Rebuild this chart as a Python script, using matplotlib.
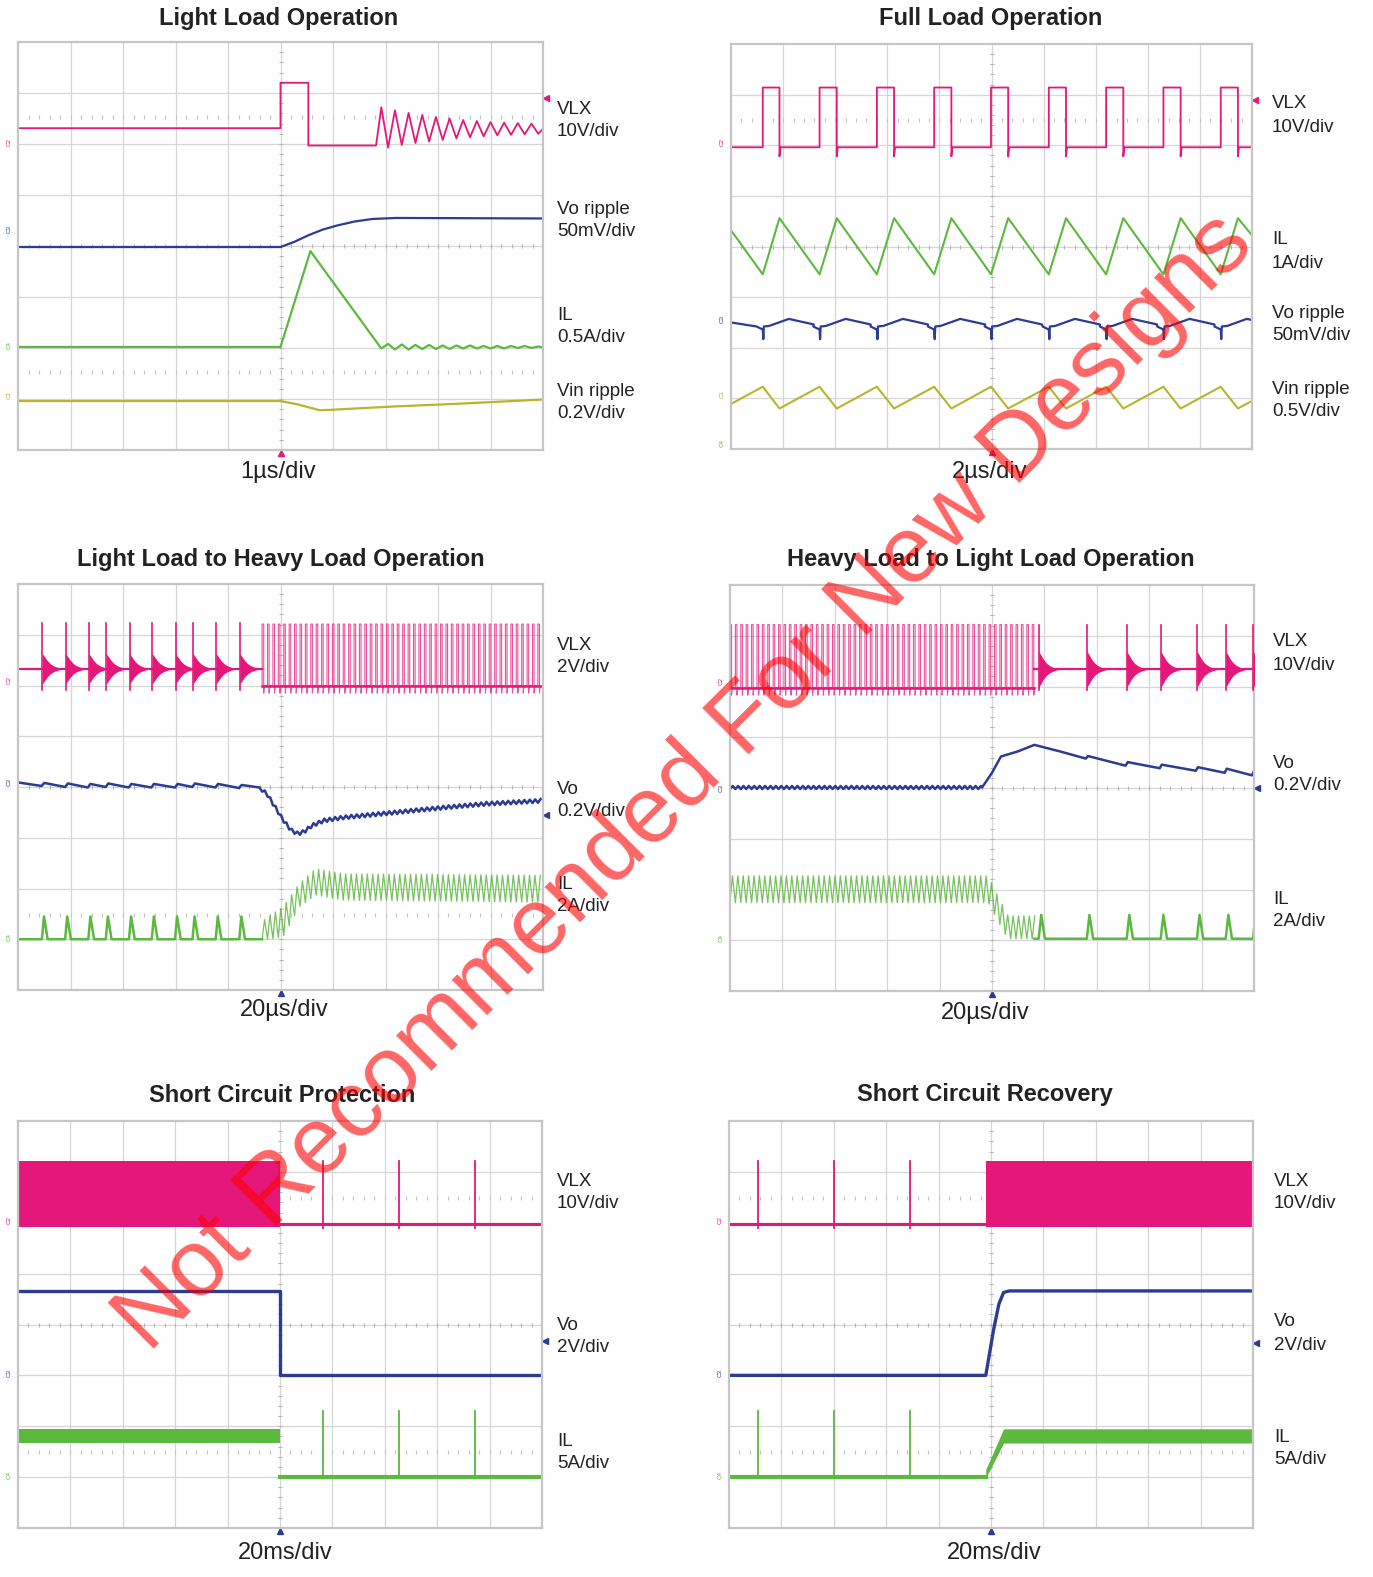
import numpy as np
import matplotlib.pyplot as plt

plt.rcParams['font.family'] = ['Liberation Sans', 'DejaVu Sans']

W, H = 1373, 1577
PINK = '#e5177b'
BLUE = '#2b3c92'
GREEN = '#5cb83e'
YELLOW = '#b8b42e'
GRID = '#d6d6d6'

# ---------------- data, in scope divisions (x 0..10, y 0..8) ----------------
# Light load operation
ll_vlx_x = [0, 5.0, 5.0, 5.53, 5.53, 6.82]
ll_vlx_y = [6.31, 6.31, 7.2, 7.2, 5.97, 5.97]
ll_ring_x = [6.92, 7.05, 7.18, 7.31, 7.44, 7.57, 7.70, 7.83, 7.96, 8.09, 8.22, 8.35,
             8.48, 8.61, 8.74, 8.87, 9.00, 9.13, 9.26, 9.39, 9.52, 9.65, 9.78, 9.91, 10.0]
ll_ring_y = [6.72, 5.93, 6.66, 5.98, 6.61, 6.02, 6.57, 6.05, 6.53, 6.08, 6.50, 6.11,
             6.47, 6.13, 6.45, 6.15, 6.43, 6.17, 6.42, 6.18, 6.41, 6.19, 6.40, 6.20, 6.30]
ll_vo_x = [0, 5.0, 5.26, 5.53, 5.8, 6.07, 6.41, 6.75, 7.2, 10.0]
ll_vo_y = [3.98, 3.98, 4.08, 4.21, 4.32, 4.40, 4.48, 4.53, 4.55, 4.54]
ll_il_x = [0, 5.0, 5.57, 6.92, 7.05, 7.18, 7.31, 7.44, 7.57, 7.70, 7.83, 7.96, 8.09, 8.22,
           8.35, 8.48, 8.61, 8.74, 8.87, 9.00, 9.13, 9.26, 9.39, 9.52, 9.65, 9.78, 9.91, 10.0]
ll_il_y = [2.02, 2.02, 3.90, 1.99, 2.08, 1.97, 2.07, 1.97, 2.06, 1.98, 2.06, 1.98, 2.05, 1.98,
           2.05, 1.99, 2.05, 1.99, 2.04, 1.99, 2.04, 1.99, 2.04, 2.00, 2.04, 2.00, 2.03, 2.01]
ll_vin_x = [0, 5.0, 5.3, 5.6, 5.75, 6.0, 7.09, 8.44, 10.0]
ll_vin_y = [0.96, 0.96, 0.90, 0.82, 0.78, 0.79, 0.85, 0.91, 0.99]

# Full load operation
fl_rise = [0.61, 1.70, 2.80, 3.90, 4.99, 6.10, 7.20, 8.30, 9.40]
fl_fall = [0.93, 2.03, 3.13, 4.23, 5.32, 6.43, 7.53, 8.63, 9.73]
fl_vlx_levels = [5.96, 7.14, 5.78]          # low, high, undershoot
fl_il_levels = [3.45, 4.56]                 # valley, peak
fl_il_ends = [4.32, 4.22]
fl_vo_dx = [-0.12, 0, 0.01, 0.02, 0.12, 0.5, 0.98]
fl_vo_y = [2.42, 2.36, 2.17, 2.42, 2.43, 2.57, 2.46]
fl_vin_levels = [1.23, 0.80]                # peak, trough
fl_vin_ends = [0.89, 0.95]

# Light load to heavy load
lh_pulses = [0.465, 0.907, 1.349, 1.682, 2.124, 2.558, 3.0, 3.333, 3.775, 4.225]
lh_burst = [4.65, 10.0]
lh_period = 0.103
lh_vlx_levels = [6.33, 7.23, 5.92]          # base, spike top, spike bottom
lh_burst_levels = [6.0, 7.21, 5.85]
lh_vo_x = [0, 0.45, 0.5, 0.9, 0.95, 1.33, 1.38, 1.67, 1.72, 2.11, 2.16, 2.54, 2.59,
           2.99, 3.04, 3.32, 3.37, 3.76, 3.81, 4.21, 4.26, 4.6, 4.75, 4.9, 5.05, 5.2,
           5.33, 5.45, 5.6, 5.83, 6.2, 6.6, 7.0, 7.38, 8.16, 8.93, 10.0]
lh_vo_y = [4.09, 4.02, 4.08, 4.00, 4.07, 3.99, 4.06, 4.00, 4.07, 3.99, 4.06, 3.99, 4.06,
           3.99, 4.06, 4.00, 4.07, 3.99, 4.06, 3.98, 4.04, 3.99, 3.85, 3.60, 3.35, 3.15,
           3.08, 3.12, 3.24, 3.34, 3.40, 3.44, 3.48, 3.52, 3.60, 3.67, 3.73]
lh_il_base = 1.0
lh_il_spike = 1.45
lh_il_env_x = [4.65, 4.8, 5.05, 5.36, 5.67, 6.2, 10.0]
lh_il_env_lo = [1.0, 1.0, 1.05, 1.64, 1.87, 1.77, 1.73]
lh_il_env_hi = [1.35, 1.47, 1.64, 2.10, 2.39, 2.29, 2.26]

# Heavy load to light load
hl_burst = [0.0, 5.81]
hl_period = 0.103
hl_pulses = [5.89, 6.81, 7.57, 8.22, 8.91, 9.46, 9.98]
hl_vlx_levels = [6.34, 7.22, 5.93]
hl_burst_levels = [5.98, 7.22, 5.83]
hl_vo_x = [0, 4.81, 5.0, 5.17, 5.49, 5.81, 6.3, 6.79, 6.83, 7.55, 7.59, 8.2, 8.24,
           8.89, 8.93, 9.44, 9.48, 9.96, 10.0]
hl_vo_y = [4.01, 4.01, 4.30, 4.62, 4.72, 4.85, 4.72, 4.58, 4.63, 4.44, 4.51, 4.39, 4.46,
           4.34, 4.41, 4.30, 4.38, 4.25, 4.33]
hl_il_base = 1.03
hl_il_spike = 1.5
hl_il_env_x = [0, 4.93, 5.1, 5.3, 5.33, 5.85]
hl_il_env_lo = [1.74, 1.74, 1.40, 1.03, 1.03, 1.03]
hl_il_env_hi = [2.27, 2.27, 1.90, 1.50, 1.48, 1.48]

# Short circuit protection
sp_split = 5.0
sp_spikes = [5.83, 7.28, 8.72]
sp_vlx_band = [5.92, 7.21]
sp_vlx_base = 5.97
sp_vo_levels = [4.66, 3.0]
sp_il_band = [1.67, 1.95]
sp_il_base = 1.0
sp_il_spike = 2.3

# Short circuit recovery
sr_split = 4.9
sr_spikes = [0.55, 2.0, 3.45]
sr_vlx_band = [5.92, 7.21]
sr_vlx_base = 5.97
sr_vo_x = [0, 4.9, 4.95, 5.05, 5.15, 5.24, 5.35, 10.0]
sr_vo_y = [3.0, 3.0, 3.3, 3.9, 4.4, 4.63, 4.66, 4.66]
sr_il_base = 1.0
sr_il_spike = 2.3
sr_il_x = [4.9, 5.24, 10.0]
sr_il_lo = [0.98, 1.67, 1.67]
sr_il_hi = [1.15, 1.95, 1.95]

# ring-down shape after a light-load switching pulse
ring_dx = [0, 0.04, 0.09, 0.15, 0.22, 0.3, 0.4]
ring_env = [1.0, 0.8, 0.55, 0.33, 0.18, 0.08, 0.0]

fig = plt.figure(figsize=(W / 100, H / 100), dpi=100)


def scope_axes(box, dotted_rows):
    l, t, r, b = box
    ax = fig.add_axes([l / W, 1 - b / H, (r - l) / W, (b - t) / H])
    ax.set_xlim(0, 10)
    ax.set_ylim(0, 8)
    ax.set_xticks([])
    ax.set_yticks([])
    for s in ax.spines.values():
        s.set_color('#c6c6c6')
        s.set_linewidth(1.6)
    for gx in range(1, 10):
        ax.axvline(gx, color=GRID, lw=0.9, zorder=0)
    for gy in range(1, 8):
        ax.axhline(gy, color=GRID, lw=0.9, zorder=0)
    mx = np.arange(0.2, 10, 0.2)
    my = np.arange(0.2, 8, 0.2)
    ax.plot(mx, np.full_like(mx, 4), ls='none', marker='|', ms=3.5, mew=0.8, color='#b5b5b5', zorder=0)
    ax.plot(np.full_like(my, 5), my, ls='none', marker='_', ms=3.5, mew=0.8, color='#b5b5b5', zorder=0)
    for y in dotted_rows:
        ax.plot(mx, np.full_like(mx, y), ls='none', marker='|', ms=2.5, mew=0.8, color='#c4c4c4', zorder=0)
    return ax


def text_px(x, y, s, **kw):
    fig.text(x / W, 1 - y / H, s, **kw)


def tags(ax, items):
    for y, name, c in items:
        ax.text(-0.12, y, name, rotation=90, fontsize=4.5, color=c, ha='right', va='center', clip_on=False)


def pulse_lines(ax, times, width, levels, **kw):
    lo, hi, under = levels
    xs, ys = [], []
    for t in times:
        xs += [t, t, t + width, t + width, t + width + 0.012]
        ys += [lo, hi, hi, under, lo]
    ax.plot(xs, ys, **kw)


def ring_pulses(ax, times, levels, amp):
    base, top, bottom = levels
    for p in times:
        xs = [p + d for d in ring_dx]
        ax.fill_between(xs, [base - amp * e for e in ring_env], [base + amp * e for e in ring_env],
                        color=PINK, lw=0, zorder=3)
        ax.plot([p, p], [bottom, top], color=PINK, lw=1.2, zorder=3)


def triangle_burst(ax, start, stop, period, ex, elo, ehi, **kw):
    t = np.arange(start, stop, period)
    xs = np.ravel(np.column_stack([t, t + period * 0.45]))
    ys = np.ravel(np.column_stack([np.interp(t, ex, elo), np.interp(t + period * 0.45, ex, ehi)]))
    ax.plot(xs, ys, **kw)


def ripple(start, stop, period, bx, by, amp):
    t = np.arange(start, stop, period / 2)
    sign = np.where(np.arange(len(t)) % 2 == 0, -1, 1)
    return t, np.interp(t, bx, by) + sign * amp


# ---------------- panel 1: light load ----------------
ax = scope_axes((18, 42, 543, 450), [6.52, 1.53])
ax.plot(ll_vlx_x + ll_ring_x, ll_vlx_y + ll_ring_y, color=PINK, lw=1.3)
ax.plot(ll_vo_x, ll_vo_y, color=BLUE, lw=1.6)
ax.plot(ll_il_x, ll_il_y, color=GREEN, lw=1.6)
ax.plot(ll_vin_x, ll_vin_y, color=YELLOW, lw=1.6)
ax.plot(10.06, 6.91, marker='<', ms=4, color=PINK, clip_on=False)
ax.plot(5, -0.06, marker='^', ms=4, color=PINK, clip_on=False)
tags(ax, [(6.03, 'C2', PINK), (4.33, 'C3', BLUE), (2.05, 'C4', GREEN), (1.08, 'C1', YELLOW)])

# ---------------- panel 2: full load ----------------
ax = scope_axes((731, 44, 1252, 449), [6.49])
vlx_x, vlx_y = [0], [fl_vlx_levels[0]]
for r, f in zip(fl_rise, fl_fall):
    vlx_x += [r, r, f, f, f + 0.02]
    vlx_y += [fl_vlx_levels[0], fl_vlx_levels[1], fl_vlx_levels[1], fl_vlx_levels[2], fl_vlx_levels[0]]
vlx_x.append(10)
vlx_y.append(fl_vlx_levels[0])
ax.plot(vlx_x, vlx_y, color=PINK, lw=1.3)
il_x, il_y = [0], [fl_il_ends[0]]
vin_x, vin_y = [0], [fl_vin_ends[0]]
for r, f in zip(fl_rise, fl_fall):
    il_x += [r, f]
    il_y += fl_il_levels
    vin_x += [r, f]
    vin_y += fl_vin_levels
il_x.append(10)
il_y.append(fl_il_ends[1])
vin_x.append(10)
vin_y.append(fl_vin_ends[1])
ax.plot(il_x, il_y, color=GREEN, lw=1.5)
vo_x, vo_y = [0], [2.5]
for r in fl_rise:
    vo_x += [r + d for d in fl_vo_dx]
    vo_y += fl_vo_y
vo_x.append(10)
vo_y.append(2.5)
ax.plot(vo_x, vo_y, color=BLUE, lw=1.6)
ax.plot(vin_x, vin_y, color=YELLOW, lw=1.5)
ax.plot(10.06, 6.89, marker='<', ms=4, color=PINK, clip_on=False)
ax.plot(5, -0.06, marker='^', ms=4, color=PINK, clip_on=False)
tags(ax, [(6.07, 'C2', PINK), (2.57, 'C3', BLUE), (1.09, 'C1', YELLOW), (0.11, 'C4', GREEN)])

# ---------------- panel 3: light to heavy ----------------
ax = scope_axes((18, 584, 543, 990), [1.47])
ax.plot([0, lh_burst[0]], [lh_vlx_levels[0]] * 2, color=PINK, lw=1.6)
ring_pulses(ax, lh_pulses, lh_vlx_levels, 0.3)
burst_t = np.arange(lh_burst[0], lh_burst[1], lh_period)
pulse_lines(ax, burst_t, 0.03, lh_burst_levels, color=PINK, lw=0.8, alpha=0.75)
ax.plot(lh_burst, [lh_burst_levels[0]] * 2, color=PINK, lw=1.8)
rx, ry = ripple(lh_burst[0], 10.0, lh_period, lh_vo_x, lh_vo_y, 0.035)
keep = [i for i, x in enumerate(lh_vo_x) if x < lh_burst[0]]
ax.plot([lh_vo_x[i] for i in keep] + list(rx), [lh_vo_y[i] for i in keep] + list(ry), color=BLUE, lw=1.8)
il_x, il_y = [0], [lh_il_base]
for p in lh_pulses:
    il_x += [p - 0.01, p + 0.03, p + 0.1]
    il_y += [lh_il_base, lh_il_spike, lh_il_base]
il_x.append(lh_burst[0])
il_y.append(lh_il_base)
ax.plot(il_x, il_y, color=GREEN, lw=1.8)
triangle_burst(ax, lh_burst[0], 10.0, lh_period, lh_il_env_x, lh_il_env_lo, lh_il_env_hi,
               color=GREEN, lw=0.9, alpha=0.85)
ax.plot(10.06, 3.44, marker='<', ms=4, color=BLUE, clip_on=False)
ax.plot(5, -0.06, marker='^', ms=4, color=BLUE, clip_on=False)
tags(ax, [(6.1, 'C2', PINK), (4.1, 'C3', BLUE), (1.05, 'C4', GREEN)])

# ---------------- panel 4: heavy to light ----------------
ax = scope_axes((730, 585, 1254, 991), [])
burst_t = np.arange(hl_burst[0], hl_burst[1], hl_period)
pulse_lines(ax, burst_t, 0.03, hl_burst_levels, color=PINK, lw=0.8, alpha=0.75)
ax.plot(hl_burst, [hl_burst_levels[0]] * 2, color=PINK, lw=1.8)
ax.plot([hl_burst[1], 10], [hl_vlx_levels[0]] * 2, color=PINK, lw=1.6)
ring_pulses(ax, hl_pulses, hl_vlx_levels, 0.36)
rx, ry = ripple(0, hl_vo_x[1], hl_period, hl_vo_x, hl_vo_y, 0.03)
ax.plot(list(rx) + hl_vo_x[1:], list(ry) + hl_vo_y[1:], color=BLUE, lw=1.8)
triangle_burst(ax, hl_burst[0], hl_burst[1], hl_period, hl_il_env_x, hl_il_env_lo, hl_il_env_hi,
               color=GREEN, lw=0.9, alpha=0.85)
il_x, il_y = [hl_burst[1]], [hl_il_base]
for p in hl_pulses:
    il_x += [p, p + 0.05, p + 0.12]
    il_y += [hl_il_base, hl_il_spike, hl_il_base]
il_x.append(10)
il_y.append(hl_il_base)
ax.plot(il_x, il_y, color=GREEN, lw=1.8)
ax.plot(10.06, 4.0, marker='<', ms=4, color=BLUE, clip_on=False)
ax.plot(5, -0.06, marker='^', ms=4, color=BLUE, clip_on=False)
tags(ax, [(6.1, 'C2', PINK), (4.0, 'C3', BLUE), (1.05, 'C4', GREEN)])

# ---------------- panel 5: short circuit protection ----------------
ax = scope_axes((18, 1121, 542, 1528), [6.49, 1.49])
ax.fill_between([0, sp_split], sp_vlx_band[0], sp_vlx_band[1], color=PINK, lw=0)
ax.plot([sp_split, 10], [sp_vlx_base] * 2, color=PINK, lw=2.2)
for p in sp_spikes:
    ax.plot([p, p], [sp_vlx_base - 0.08, sp_vlx_band[1]], color=PINK, lw=1.3)
    ax.plot([p, p], [sp_il_base, sp_il_spike], color=GREEN, lw=1.3)
ax.plot([0, sp_split, sp_split, 10], [sp_vo_levels[0], sp_vo_levels[0], sp_vo_levels[1], sp_vo_levels[1]],
        color=BLUE, lw=2.4)
ax.fill_between([0, sp_split], sp_il_band[0], sp_il_band[1], color=GREEN, lw=0)
ax.plot([sp_split, 10], [sp_il_base] * 2, color=GREEN, lw=3)
ax.plot(10.06, 3.67, marker='<', ms=4, color=BLUE, clip_on=False)
ax.plot(5, -0.06, marker='^', ms=4, color=BLUE, clip_on=False)
tags(ax, [(6.05, 'C2', PINK), (3.05, 'C3', BLUE), (1.05, 'C4', GREEN)])

# ---------------- panel 6: short circuit recovery ----------------
ax = scope_axes((729, 1121, 1253, 1528), [6.49, 1.49])
ax.plot([0, sr_split], [sr_vlx_base] * 2, color=PINK, lw=2.2)
ax.fill_between([sr_split, 10], sr_vlx_band[0], sr_vlx_band[1], color=PINK, lw=0)
for p in sr_spikes:
    ax.plot([p, p], [sr_vlx_base - 0.08, sr_vlx_band[1]], color=PINK, lw=1.3)
    ax.plot([p, p], [sr_il_base, sr_il_spike], color=GREEN, lw=1.3)
ax.plot(sr_vo_x, sr_vo_y, color=BLUE, lw=2.4)
ax.plot([0, sr_split], [sr_il_base] * 2, color=GREEN, lw=3)
ax.fill_between(sr_il_x, sr_il_lo, sr_il_hi, color=GREEN, lw=0)
ax.plot(10.06, 3.63, marker='<', ms=4, color=BLUE, clip_on=False)
ax.plot(5, -0.06, marker='^', ms=4, color=BLUE, clip_on=False)
tags(ax, [(6.05, 'C2', PINK), (3.05, 'C3', BLUE), (1.05, 'C4', GREEN)])

# ---------------- text ----------------
titles = [(279, 18, 'Light Load Operation'), (991, 18, 'Full Load Operation'),
          (281, 559, 'Light Load to Heavy Load Operation'), (991, 559, 'Heavy Load to Light Load Operation'),
          (282, 1095, 'Short Circuit Protection'), (985, 1095, 'Short Circuit Recovery')]
for x, y, s in titles:
    text_px(x, y, s, ha='center', va='center', fontsize=17, fontweight='bold', color='#222222')

timebases = [(278, 472, '1µs/div'), (990, 472, '2µs/div'), (284, 1010, '20µs/div'),
             (985, 1013, '20µs/div'), (285, 1553, '20ms/div'), (994, 1553, '20ms/div')]
for x, y, s in timebases:
    text_px(x, y, s, ha='center', va='center', fontsize=17, color='#222222')

side = [(557, [(109, 'VLX'), (132, '10V/div'), (209, 'Vo ripple'), (232, '50mV/div'),
               (316, 'IL'), (338, '0.5A/div'), (391, 'Vin ripple'), (413, '0.2V/div')]),
        (1272, [(104, 'VLX'), (127, '10V/div'), (240, 'IL'), (263, '1A/div'),
                (313, 'Vo ripple'), (336, '50mV/div'), (389, 'Vin ripple'), (411, '0.5V/div')]),
        (557, [(645, 'VLX'), (667, '2V/div'), (789, 'Vo'), (811, '0.2V/div'), (884, 'IL'), (907, '2A/div')]),
        (1273, [(642, 'VLX'), (665, '10V/div'), (763, 'Vo'), (786, '0.2V/div'), (899, 'IL'), (921, '2A/div')]),
        (557, [(1181, 'VLX'), (1203, '10V/div'), (1326, 'Vo'), (1347, '2V/div'), (1442, 'IL'), (1464, '5A/div')]),
        (1274, [(1181, 'VLX'), (1203, '10V/div'), (1322, 'Vo'), (1345, '2V/div'), (1437, 'IL'), (1460, '5A/div')])]
for x, items in side:
    for y, s in items:
        text_px(x, y, s, ha='left', va='center', fontsize=13.5, color='#222222')

# watermark
text_px(702, 800, 'Not Recommended For New Designs', rotation=45, rotation_mode='anchor',
        ha='center', va='baseline', fontsize=68, color='red', alpha=0.6, zorder=20)

fig.savefig('out.png', dpi=100)
